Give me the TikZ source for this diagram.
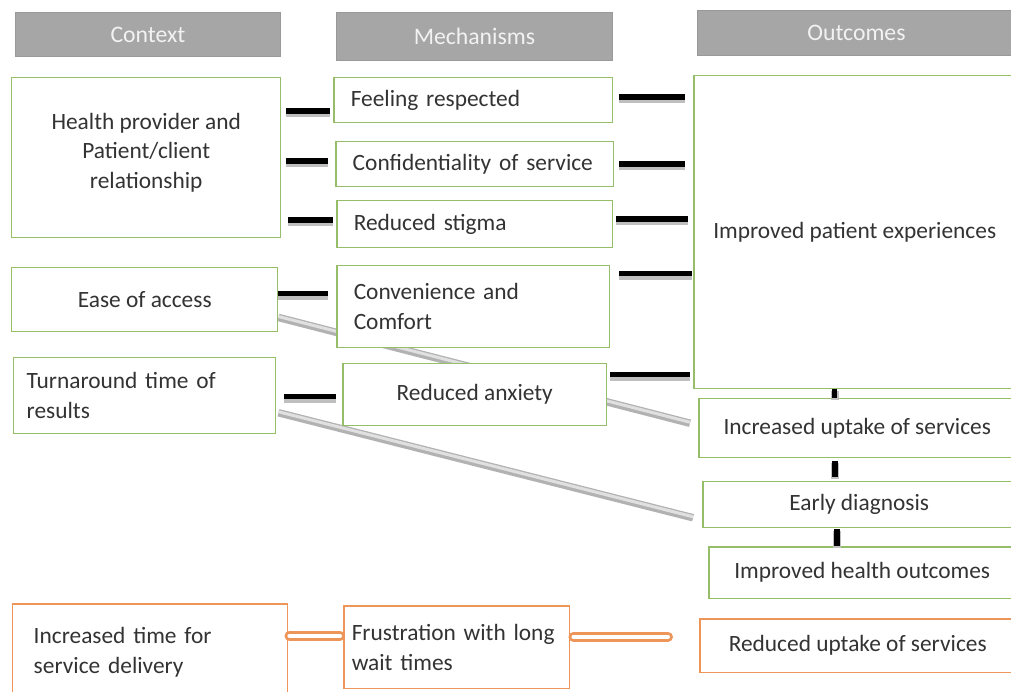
\documentclass[tikz,border=0pt]{standalone}
\usepackage{fontspec}
\setmainfont{Carlito}
\usetikzlibrary{calc,positioning,backgrounds}
\definecolor{boxgreen}{RGB}{150,190,105}
\definecolor{boxorange}{RGB}{238,150,90}
\definecolor{hdrgray}{RGB}{166,166,166}
\tikzset{box/.style={draw, line width=0.03cm, fill=white, anchor=north west, inner sep=0pt, text=black!80, font=\fontsize{13.3}{17}\selectfont, align=center},
  ctx/.style={box, draw=boxgreen},
  neg/.style={box, draw=boxorange},
  lft/.style={align=left},
  hdr/.style={fill=hdrgray, draw=black!40, line width=0.02cm, anchor=north west, text=white!95!black, font=\fontsize{13.5}{15}\selectfont},
  link/.style={line width=0.11cm, preaction={draw=black!25, line width=0.16cm, transform canvas={yshift=-0.04cm}}},
  skew/.style={line width=0.15cm, draw=black!30, postaction={draw=black!12, line width=0.06cm, transform canvas={yshift=0.02cm}}},
  pipe/.style={draw=boxorange, line width=0.06cm, double=white, double distance=0.08cm, line cap=round}}
\begin{document}
\begin{tikzpicture}[x=0.02cm, y=-0.02cm]
\useasboundingbox (0,0) rectangle (1011,692);

% headers
\node[hdr, minimum width=5.30cm, minimum height=0.88cm] (hctx) at (15,12) {Context};
\node[hdr, minimum width=5.52cm, minimum height=0.96cm] (hmech) at (336,12) {Mechanisms};
\node[hdr, minimum width=6.36cm, minimum height=0.90cm] (hout) at (697,10) {Outcomes};

% context
\node[ctx, minimum width=5.38cm, minimum height=3.20cm] (hp) at (11,77) {Health provider and\\Patient/client\\relationship\\[-0.32cm]\mbox{}};
\node[ctx, minimum width=5.32cm, minimum height=1.28cm] (ease) at (11,267) {Ease of access};
\node[ctx, lft, text width=4.72cm, minimum width=5.24cm, minimum height=1.52cm] (turn) at (13,357) {Turnaround time of\\results};

% mechanisms
\node[ctx, lft, text width=4.90cm, minimum width=5.58cm, minimum height=0.90cm] (resp) at (333,77) {Feeling respected};
\node[ctx, lft, text width=4.88cm, minimum width=5.56cm, minimum height=0.90cm] (conf) at (335,141) {Confidentiality of service};
\node[ctx, lft, text width=4.84cm, minimum width=5.52cm, minimum height=0.94cm] (stig) at (336,200) {Reduced stigma};
\node[ctx, lft, text width=4.78cm, minimum width=5.46cm, minimum height=1.64cm] (conv) at (336,265) {Convenience and\\Comfort};
\node[ctx, minimum width=5.28cm, minimum height=1.24cm] (anx) at (342,363) {Reduced anxiety};

% outcomes
\node[ctx, minimum width=6.44cm, minimum height=6.26cm] (exp) at (693,75) {Improved patient experiences};
\node[ctx, minimum width=6.34cm, minimum height=1.18cm] (upt) at (698,398) {Increased uptake of services};
\node[ctx, minimum width=6.26cm, minimum height=0.92cm] (diag) at (702,481) {Early diagnosis};
\node[ctx, minimum width=6.14cm, minimum height=1.04cm] (hlth) at (708,546) {Improved health outcomes};

% negative pathway
\node[neg, lft, text width=4.66cm, minimum width=5.50cm, minimum height=1.94cm] (time) at (12,603) {Increased time for\\service delivery};
\node[neg, lft, text width=4.2cm, minimum width=4.52cm, minimum height=1.66cm] (frus) at (343,605) {Frustration with long\\wait times};
\node[neg, minimum width=6.32cm, minimum height=1.08cm] (red) at (699,618) {Reduced uptake of services};

\begin{scope}[on background layer]
\draw[skew] ($(ease.south east)+(0,-15)$) -- ($(upt.west)+(-8,-5)$);
\draw[skew] ($(turn.east)+(2,17)$) -- ($(diag.west)+(-9,13)$);
\end{scope}

\draw[link] ($(hp.east |- resp.west)+(5,11)$) -- ($(resp.west)+(-3,11)$);
\draw[link] ($(hp.east |- conf.west)+(5,-3)$) -- ($(conf.west)+(-7,-3)$);
\draw[link] ($(hp.east |- stig.west)+(7,-4)$) -- ($(stig.west)+(-3,-4)$);
\draw[link] ($(ease.east |- conv.west)+(0,-13)$) -- ($(conv.west)+(-8,-13)$);
\draw[link] ($(turn.east |- anx.west)+(8,2)$) -- ($(anx.west)+(-6,2)$);

\draw[link] ($(resp.east)+(6,-3)$) -- ($(exp.west |- resp.east)+(-8,-3)$);
\draw[link] ($(conf.east)+(5,0)$) -- ($(exp.west |- conf.east)+(-8,0)$);
\draw[link] ($(stig.east)+(3,-5)$) -- ($(exp.west |- stig.east)+(-5,-5)$);
\draw[link] ($(conv.east)+(9,-33)$) -- ($(exp.west |- conv.east)+(-1,-33)$);
\draw[link] ($(anx.east)+(3,-20)$) -- ($(exp.west |- anx.east)+(-3,-20)$);

\draw[link] ($(exp.south)+(-20,0)$) -- ($(exp.south |- upt.north)+(-20,0)$);
\draw[link] ($(upt.south)+(-22,3)$) -- ($(upt.south |- diag.north)+(-22,-4)$);
\draw[link] ($(diag.south)+(-22,1)$) -- ($(diag.south |- hlth.north)+(-22,0)$);

\draw[pipe] ($(time.east |- frus.west)+(1,-11.5)$) -- ($(frus.west)+(-3,-11.5)$);
\draw[pipe] ($(frus.east)+(3,-10.5)$) -- ($(frus.east -| red.west)+(-31,-10.5)$);
\end{tikzpicture}
\end{document}
